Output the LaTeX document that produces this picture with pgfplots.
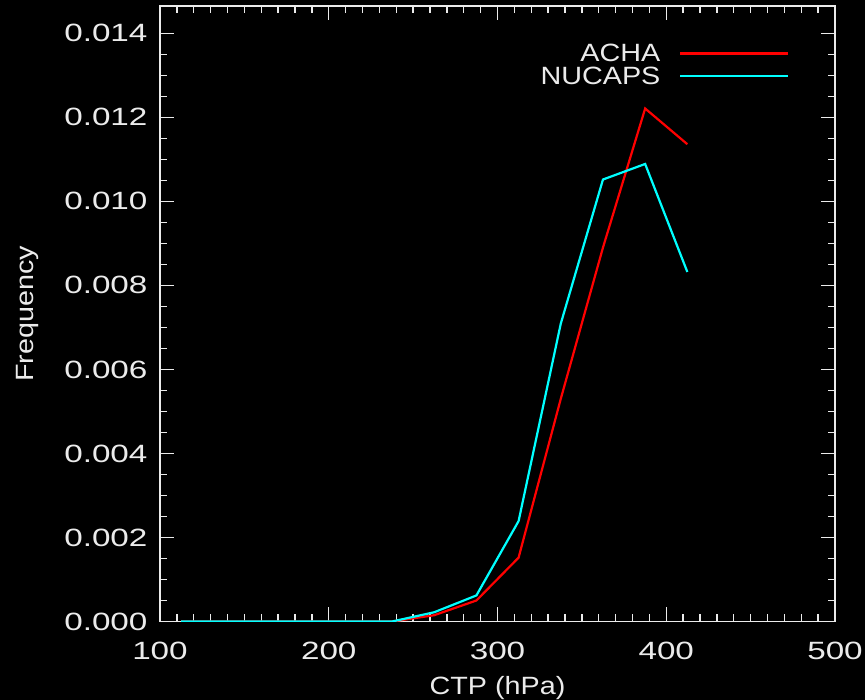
\documentclass[border=0pt]{standalone}
\usepackage{fontspec}
\setmainfont{Liberation Sans}
\newfontfamily\tickfont[FakeStretch=1.33]{Liberation Sans}
\newfontfamily\labelfont[FakeStretch=1.15]{Liberation Sans}
\usepackage{pgfplots}
\pgfplotsset{compat=1.18}

\definecolor{fg}{RGB}{235,235,235}
\definecolor{achared}{RGB}{255,0,0}
\definecolor{nucapscyan}{RGB}{0,255,255}

\begin{document}
\begin{tikzpicture}
\fill[black] (0,0) rectangle (865bp,700bp);
\path[use as bounding box] (0,0) rectangle (865bp,700bp);
\begin{axis}[
  at={(160bp,78.5bp)}, anchor=south west,
  scale only axis, width=675bp, height=615.5bp,
  xmin=100, xmax=500, ymin=0, ymax=0.01465,
  xtick={100,200,300,400,500},
  ytick={0,0.002,0.004,0.006,0.008,0.010,0.012,0.014},
  minor x tick num=9, minor y tick num=3,
  major tick length=14bp, minor tick length=7bp,
  axis line style={fg, line width=1.4bp},
  every tick/.style={fg, line width=1.4bp},
  scaled y ticks=false,
  yticklabel style={xshift=-9bp, /pgf/number format/.cd, fixed, fixed zerofill, precision=3, assume math mode=true},
  xticklabel style={yshift=-17bp, /pgf/number format/assume math mode=true},
  tick label style={font=\tickfont\fontsize{25bp}{30bp}\selectfont, text=fg},
  xlabel={CTP (hPa)}, ylabel={Frequency},
  label style={font=\labelfont\fontsize{25bp}{30bp}\selectfont, text=fg},
  xlabel style={at={(axis description cs:0.5,-0.1194)}, anchor=base},
  ylabel style={at={(axis description cs:-0.196,0.5)}, anchor=center},
  legend style={draw=none, fill=none, text=fg,
    font=\labelfont\fontsize{25bp}{30bp}\selectfont,
    at={(axis description cs:0.933,0.941)}, anchor=north east,
    inner sep=0pt, row sep=0.5bp,
    nodes={inner sep=1bp, text height=18bp, text depth=2bp}},
  legend plot pos=right,
  legend cell align=right,
  legend image code/.code={\draw[#1] (0bp,0bp) -- (108bp,0bp);},
]
\addplot[achared, line width=2.2bp] coordinates {
  (112.5,0) (137.5,0) (162.5,0) (187.5,0) (212.5,0) (237.5,0)
  (262.5,0.00015) (287.5,0.0005) (312.5,0.00152) (337.5,0.0053)
  (362.5,0.0089) (387.5,0.01221) (412.5,0.01136)
};
\addlegendentry{ACHA\hspace*{18bp}}
\addplot[nucapscyan, line width=2.2bp] coordinates {
  (112.5,0) (137.5,0) (162.5,0) (187.5,0) (212.5,0) (237.5,0)
  (262.5,0.00022) (287.5,0.00062) (312.5,0.00239) (337.5,0.00709)
  (362.5,0.01052) (387.5,0.01089) (412.5,0.00832)
};
\addlegendentry{NUCAPS\hspace*{18bp}}
\end{axis}
\end{tikzpicture}
\end{document}
